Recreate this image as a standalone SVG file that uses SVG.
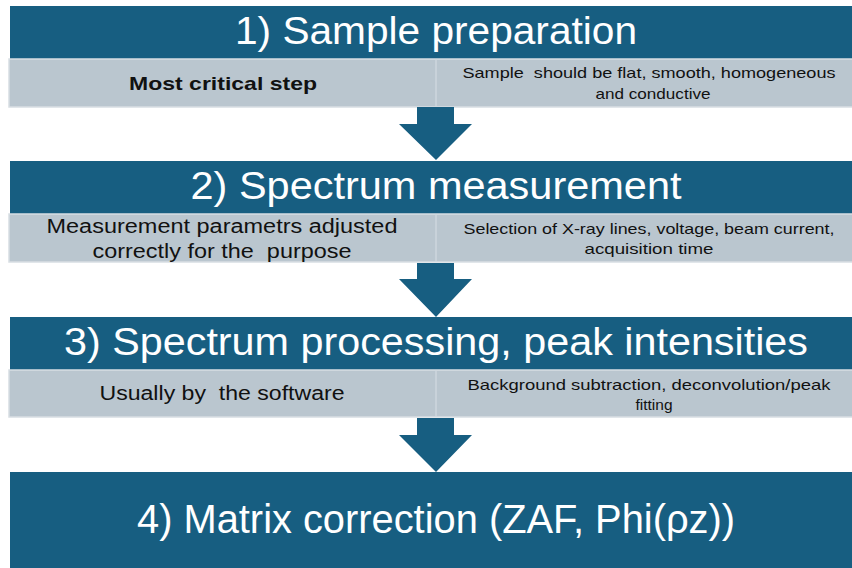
<svg xmlns="http://www.w3.org/2000/svg" width="852" height="568" viewBox="0 0 852 568" xml:space="preserve">
<style>
.hdr{fill:#175E81}
.row{fill:#BAC6CF;stroke:#D8DEE3;stroke-width:1.5}
.div{stroke:#D3DBE1;stroke-width:1.2}
.arrow{fill:#175E81}
.title{font-family:"Liberation Sans",Arial,sans-serif;fill:#FFFFFF;text-anchor:middle}
.txt{font-family:"Liberation Sans",Arial,sans-serif;fill:#111111;text-anchor:middle;white-space:pre}
</style>
<rect width="852" height="568" fill="#FFFFFF"/>
<g id="step1">
<rect class="hdr" x="10" y="6" width="852" height="53"/>
<rect class="row" x="9" y="59" width="853" height="48"/>
<line class="div" x1="436" y1="60" x2="436" y2="106"/>
<text class="title" x="436" y="44" font-size="38" textLength="402" lengthAdjust="spacingAndGlyphs">1) Sample preparation</text>
<text class="txt" x="223" y="90" font-size="19" font-weight="bold" textLength="188" lengthAdjust="spacingAndGlyphs">Most critical step</text>
<text class="txt" x="649" y="78" font-size="15" textLength="373" lengthAdjust="spacingAndGlyphs">Sample  should be flat, smooth, homogeneous</text>
<text class="txt" x="653" y="99" font-size="15" textLength="115" lengthAdjust="spacingAndGlyphs">and conductive</text>
</g>
<g id="step2">
<rect class="hdr" x="10" y="161" width="852" height="53"/>
<rect class="row" x="9" y="214" width="853" height="48"/>
<line class="div" x1="436" y1="215" x2="436" y2="262"/>
<text class="title" x="436" y="199" font-size="38" textLength="491" lengthAdjust="spacingAndGlyphs">2) Spectrum measurement</text>
<text class="txt" x="222" y="233" font-size="20" textLength="351" lengthAdjust="spacingAndGlyphs">Measurement parametrs adjusted</text>
<text class="txt" x="222" y="258" font-size="20" textLength="259" lengthAdjust="spacingAndGlyphs">correctly for the  purpose</text>
<text class="txt" x="649" y="234" font-size="15" textLength="371" lengthAdjust="spacingAndGlyphs">Selection of X-ray lines, voltage, beam current,</text>
<text class="txt" x="649" y="254" font-size="15" textLength="129" lengthAdjust="spacingAndGlyphs">acquisition time</text>
</g>
<g id="step3">
<rect class="hdr" x="10" y="317" width="852" height="53"/>
<rect class="row" x="9" y="370" width="853" height="47"/>
<line class="div" x1="436" y1="371" x2="436" y2="417"/>
<text class="title" x="436" y="355" font-size="38" textLength="744" lengthAdjust="spacingAndGlyphs">3) Spectrum processing, peak intensities</text>
<text class="txt" x="222" y="400" font-size="20" textLength="245" lengthAdjust="spacingAndGlyphs">Usually by  the software</text>
<text class="txt" x="649" y="390" font-size="15" textLength="363" lengthAdjust="spacingAndGlyphs">Background subtraction, deconvolution/peak</text>
<text class="txt" x="654" y="410" font-size="15" textLength="37" lengthAdjust="spacingAndGlyphs">fitting</text>
</g>
<g id="step4">
<rect class="hdr" x="10" y="472" width="852" height="96"/>
<text class="title" x="436" y="533" font-size="41" textLength="598" lengthAdjust="spacingAndGlyphs">4) Matrix correction (ZAF, Phi(ρz))</text>
</g>
<g id="connectors">
<polygon class="arrow" points="417,107 454,107 454,124 472,124 436,160 399,124 417,124"/>
<polygon class="arrow" points="417,263 454,263 454,279 472,279 436,317 399,279 417,279"/>
<polygon class="arrow" points="417,418 454,418 454,435 472,435 436,472 399,435 417,435"/>
</g>
</svg>
